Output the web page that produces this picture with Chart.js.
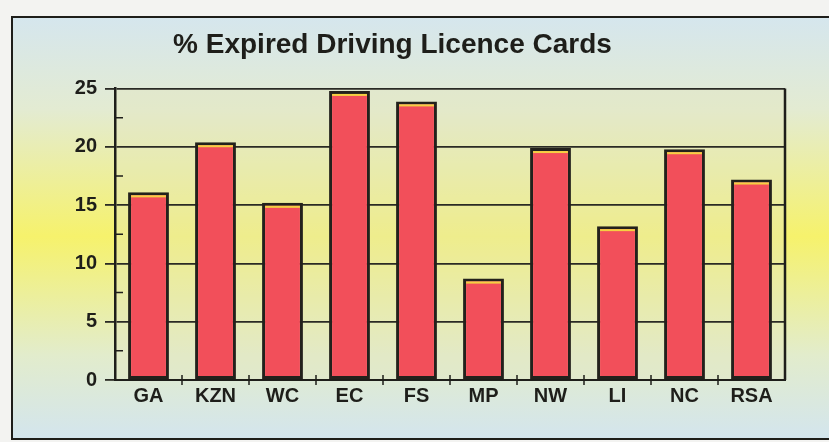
<!DOCTYPE html>
<html>
<head>
<meta charset="utf-8">
<title>% Expired Driving Licence Cards</title>
<script src="https://cdn.jsdelivr.net/npm/chart.js@4"></script>
<style>
  html, body { margin: 0; padding: 0; background: #f3f3f1; }
  canvas { display: block; }
</style>
</head>
<body>
<canvas id="licenceChart" width="829" height="442"></canvas>
<script>
const provinces = ['GA', 'KZN', 'WC', 'EC', 'FS', 'MP', 'NW', 'LI', 'NC', 'RSA'];
const expiredPercent = [16.1, 20.4, 15.2, 24.8, 23.9, 8.7, 19.9, 13.2, 19.8, 17.2];
const yTicks = [0, 5, 10, 15, 20, 25];

const ink = '#1e1e1a';

// background panel, plot tint, bar top highlight and small tick marks
const decor = {
    id: 'decor',
    beforeDraw(chart) {
        const ctx = chart.ctx;
        const area = chart.chartArea;
        ctx.save();
        ctx.fillStyle = '#f3f3f1';
        ctx.fillRect(0, 0, chart.width, chart.height);

        const grad = ctx.createLinearGradient(0, 16, 0, 440);
        grad.addColorStop(0, '#d5e6ee');
        grad.addColorStop(0.22, '#e3ebd2');
        grad.addColorStop(0.52, '#f6f26c');
        grad.addColorStop(0.8, '#e2eccc');
        grad.addColorStop(1, '#d3e5ee');
        ctx.fillStyle = grad;
        ctx.fillRect(12, 16, chart.width, 424);

        ctx.strokeStyle = ink;
        ctx.lineWidth = 2;
        ctx.beginPath();
        ctx.moveTo(chart.width + 5, 17);
        ctx.lineTo(12, 17);
        ctx.lineTo(12, 439);
        ctx.lineTo(chart.width + 5, 439);
        ctx.stroke();

        ctx.fillStyle = 'rgba(228, 230, 190, 0.4)';
        ctx.fillRect(area.left, area.top, area.right - area.left, area.bottom - area.top);
        ctx.restore();
    },
    afterDatasetsDraw(chart) {
        const ctx = chart.ctx;
        const area = chart.chartArea;
        const x = chart.scales.x;
        const y = chart.scales.y;
        ctx.save();

        // yellow edge at the top of each bar
        ctx.fillStyle = '#f5d042';
        chart.getDatasetMeta(0).data.forEach(bar => {
            ctx.fillRect(bar.x - bar.width / 2 + 3, bar.y + 3, bar.width - 6, 2);
        });

        ctx.strokeStyle = ink;
        ctx.lineWidth = 1.5;
        ctx.beginPath();
        // minor ticks inside the y axis
        for (let v = 2.5; v < 25; v += 5) {
            const py = y.getPixelForValue(v);
            ctx.moveTo(area.left, py);
            ctx.lineTo(area.left + 8, py);
        }
        // ticks between categories
        for (let i = 0; i < provinces.length - 1; i++) {
            const px = (x.getPixelForValue(i) + x.getPixelForValue(i + 1)) / 2;
            ctx.moveTo(px, area.bottom - 5);
            ctx.lineTo(px, area.bottom + 5);
        }
        ctx.stroke();

        // right edge of the plot
        ctx.lineWidth = 2.5;
        ctx.beginPath();
        ctx.moveTo(area.right, area.top);
        ctx.lineTo(area.right, area.bottom);
        ctx.stroke();
        ctx.restore();
    }
};

Chart.defaults.font.family = "'Liberation Sans', Arial, sans-serif";
Chart.defaults.color = ink;

const ctx = document.getElementById('licenceChart').getContext('2d');
new Chart(ctx, {
    type: 'bar',
    data: {
        labels: provinces,
        datasets: [{
            label: '% Expired',
            data: expiredPercent,
            backgroundColor: '#f24f5a',
            borderColor: '#23211c',
            borderWidth: 3,
            borderSkipped: false,
            categoryPercentage: 1,
            barPercentage: 0.61
        }]
    },
    options: {
        responsive: false,
        animation: false,
        layout: {
            padding: { left: 0, right: 44, top: 0, bottom: 0 }
        },
        plugins: {
            legend: { display: false },
            tooltip: { enabled: false },
            title: {
                display: true,
                text: '% Expired Driving Licence Cards',
                color: ink,
                font: { size: 28, weight: 'bold' },
                padding: { top: 28, bottom: 27 }
            }
        },
        scales: {
            x: {
                offset: true,
                grid: { display: false, drawTicks: false },
                border: { display: true, color: ink, width: 2 },
                ticks: {
                    padding: 4,
                    color: ink,
                    font: { size: 20, weight: 'bold' }
                },
                afterFit(scale) { scale.height = 62; }
            },
            y: {
                min: 0,
                max: 25,
                afterBuildTicks(scale) {
                    const values = [];
                    for (let v = 0; v <= 25; v += 2.5) values.push({ value: v });
                    scale.ticks = values;
                },
                ticks: {
                    padding: 8,
                    color: ink,
                    font: { size: 20, weight: 'bold' },
                    callback: v => (yTicks.includes(v) ? v : '')
                },
                grid: {
                    color: c => (yTicks.includes(c.tick.value) ? '#2a2a24' : 'rgba(0,0,0,0)'),
                    tickColor: c => (yTicks.includes(c.tick.value) ? '#2a2a24' : 'rgba(0,0,0,0)'),
                    lineWidth: 1.8,
                    tickLength: 10
                },
                border: { display: true, color: ink, width: 2.5 },
                afterFit(scale) { scale.width = 115; }
            }
        }
    },
    plugins: [decor]
});
</script>
</body>
</html>
